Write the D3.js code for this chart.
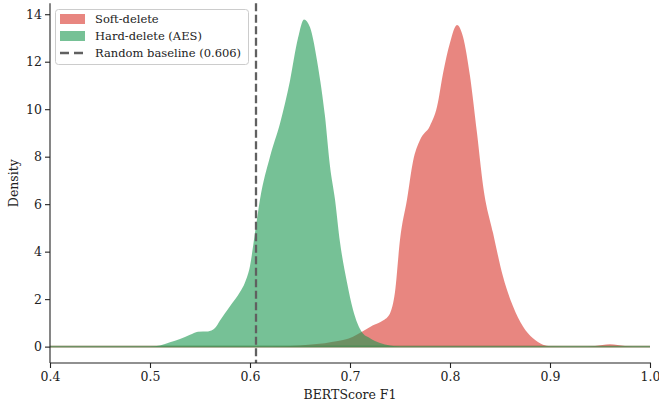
<!DOCTYPE html>
<html><head><meta charset="utf-8">
<script src="https://cdn.jsdelivr.net/npm/d3@7"></script>
<style>
body{margin:0;background:#fff;}
text{font-family:"DejaVu Serif",serif;}
</style></head>
<body><svg id="c" width="659" height="405"></svg>
<script>
// Data
const hardX = [0.40,0.50,0.51,0.52,0.53,0.54,0.548,0.558,0.565,0.57,0.58,0.59,0.595,0.60,0.605,0.61,0.62,0.63,0.64,0.648,0.654,0.66,0.668,0.675,0.68,0.685,0.69,0.697,0.703,0.712,0.72,0.73,0.74,0.75,0.80,1.0];
const hardY = [0,0,0.05,0.18,0.32,0.50,0.63,0.64,0.78,1.1,1.7,2.3,2.7,3.4,4.8,6.2,8.0,9.4,11.2,13.0,13.78,13.45,11.8,9.7,7.6,6.2,4.4,2.7,1.55,0.6,0.35,0.15,0.05,0.01,0,0];
const softX = [0.40,0.62,0.65,0.683,0.703,0.712,0.723,0.733,0.74,0.745,0.75,0.757,0.763,0.77,0.78,0.787,0.793,0.80,0.807,0.813,0.82,0.827,0.833,0.843,0.853,0.863,0.873,0.883,0.893,0.90,0.93,0.945,0.96,0.975,0.99,1.0];
const softY = [0,0,0.05,0.2,0.42,0.63,0.9,1.1,1.4,2.3,4.5,6.2,7.8,8.7,9.3,10.1,11.5,12.8,13.55,13.05,11.4,9.0,6.8,4.8,2.95,1.7,0.85,0.35,0.08,0.02,0,0.03,0.1,0.03,0,0];
const baseline = 0.606;
const xTicks = [0.4,0.5,0.6,0.7,0.8,0.9,1.0];
const yTicks = [0,2,4,6,8,10,12,14];
const seriesNames = ["Soft-delete","Hard-delete (AES)"];
const baselineLabel = "Random baseline (0.606)";
const xLabel = "BERTScore F1";
const yLabel = "Density";

const svg = d3.select("#c");
const L = 50, R = 650, T = 3.3, B = 363;
const x = d3.scaleLinear().domain([0.4,1.0]).range([L,R]);
const y = d3.scaleLinear().domain([-0.69,14.46]).range([B,T]);

const softData = softX.map((v,i)=>[v,softY[i]]);
const hardData = hardX.map((v,i)=>[v,hardY[i]]);
const area = d3.area().x(d=>x(d[0])).y0(y(0)).y1(d=>y(d[1])).curve(d3.curveMonotoneX);

const colors = ["#d9362b","#1a9850"];
const op = 0.6;
const dashColor = "#606060";

const g = svg.append("g");
[softData, hardData].forEach((data,i)=>{
  g.append("path").attr("d",area(data)).attr("fill",colors[i]).attr("fill-opacity",op);
  g.append("line").attr("x1",x(0.4)).attr("x2",x(1.0)).attr("y1",y(0)).attr("y2",y(0))
    .attr("stroke",colors[i]).attr("stroke-opacity",op).attr("stroke-width",1.6);
});

// baseline
svg.append("line").attr("x1",x(baseline)).attr("x2",x(baseline)).attr("y1",T).attr("y2",B)
  .attr("stroke",dashColor).attr("stroke-width",2.3).attr("stroke-dasharray","8,3.5");

// axes
const xAxis = d3.axisBottom(x).tickValues(xTicks).tickFormat(d3.format(".1f")).tickSizeOuter(0).tickSize(5);
const yAxis = d3.axisLeft(y).tickValues(yTicks).tickFormat(d3.format("d")).tickSizeOuter(0).tickSize(5);
const gx = svg.append("g").attr("transform",`translate(0,${B})`).call(xAxis);
const gy = svg.append("g").attr("transform",`translate(${L},0)`).call(yAxis);
[gx,gy].forEach(a=>{
  a.selectAll("path.domain").attr("stroke","#222").attr("stroke-width",1.1);
  a.selectAll(".tick line").attr("stroke","#222").attr("stroke-width",1.1);
  a.selectAll(".tick text").attr("font-family","DejaVu Serif").attr("font-size",12.5).attr("fill","#222");
});
gx.select("path.domain").attr("d",`M${L},0H${R+1}`);
gy.select("path.domain").attr("d",`M0,${T}V${B}`);
gx.selectAll(".tick text").attr("dy","0.71em").attr("y",9);
gy.selectAll(".tick text").attr("x",-8);

svg.append("text").attr("x",(L+R)/2).attr("y",399).attr("text-anchor","middle")
  .attr("font-size",12.5).attr("fill","#222").text(xLabel);
svg.append("text").attr("transform",`translate(18,${(T+B)/2}) rotate(-90)`).attr("text-anchor","middle")
  .attr("font-size",12.5).attr("fill","#222").text(yLabel);

// legend
const lg = svg.append("g");
lg.append("rect").attr("x",55.5).attr("y",9.5).attr("width",193).attr("height",55).attr("rx",3)
  .attr("fill","#fff").attr("fill-opacity",0.8).attr("stroke","#ccc").attr("stroke-width",1);
const rows = [19,36,53];
[0,1].forEach(i=>{
  lg.append("rect").attr("x",60).attr("y",rows[i]-5).attr("width",25).attr("height",10)
    .attr("fill",colors[i]).attr("fill-opacity",op);
});
lg.append("line").attr("x1",60).attr("x2",85).attr("y1",rows[2]).attr("y2",rows[2])
  .attr("stroke",dashColor).attr("stroke-width",2.3).attr("stroke-dasharray","9,5");
[seriesNames[0],seriesNames[1],baselineLabel].forEach((t,i)=>{
  lg.append("text").attr("x",95).attr("y",rows[i]).attr("dy","0.35em").attr("font-size",11.5)
    .attr("fill","#222").text(t);
});
</script></body></html>
